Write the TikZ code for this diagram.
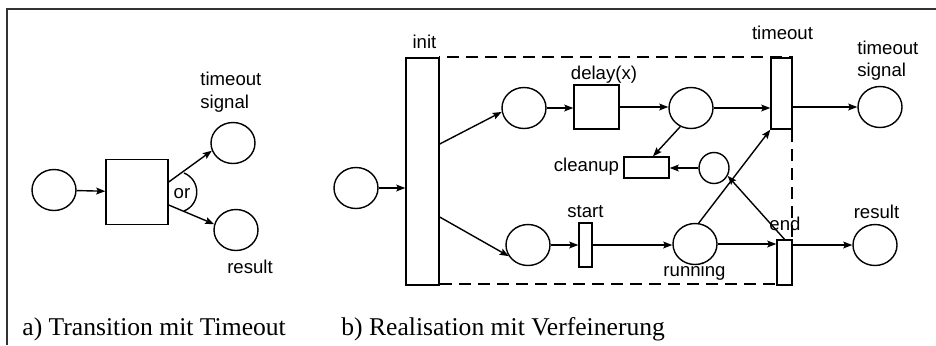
\documentclass[tikz,border=0pt]{standalone}
\usepackage{fontspec}
\setmainfont{Liberation Serif}
\setsansfont{Liberation Sans}
\usetikzlibrary{arrows.meta,shapes.geometric}
\tikzset{
  pnplace/.style={ellipse, draw, line width=0.7pt, minimum width=22pt, minimum height=20.5pt, inner sep=0pt},
  pntrans/.style={rectangle, draw, fill=white, line width=0.7pt, inner sep=0pt},
  pnarc/.style={-{Stealth[length=4.5pt, width=3.4pt, inset=0.8pt]}, line width=0.7pt},
  pnlabel/.style={font=\sffamily\fontsize{9.3}{11.2}\selectfont, inner sep=0pt},
  subcap/.style={font=\fontsize{12.8}{15}\selectfont, inner sep=0pt, anchor=base west}
}

\begin{document}
\begin{tikzpicture}[x=0.5pt, y=-0.5pt]
  \useasboundingbox (0,0) rectangle (936,345);
  \draw[line width=0.9pt, black!80] (7,345) -- (7,9) -- (936,9);

  \node[pnplace] (pa0) at (54,190) {};
  \node[pntrans, minimum width=31pt, minimum height=32.5pt] (ta) at (137,192) {};
  \node[pnplace] (pa1) at (233,143) {};
  \node[pnplace] (pa2) at (236,230) {};
  \node[pnlabel, align=left, anchor=west] (la1) at (200,92) {timeout\\signal};
  \node[pnlabel] (la2) at (250,267) {result};
  \node[pnlabel] (lor) at (182,194) {or};

  \draw[pnarc] (pa0) -- (ta);
  \draw[pnarc] ([yshift=5pt]ta.east) -- (pa1.200);
  \draw[pnarc] ([yshift=-6.5pt]ta.east) -- (pa2.165);
  \draw[line width=0.7pt] (184,173) .. controls (201,180) and (201,204) .. (184,211);

  \draw[line width=0.9pt, dashed, dash pattern=on 6pt off 3.5pt] (439,57) rectangle (792,284);

  \node[pnplace] (pb0) at (356,188) {};
  \node[pntrans, minimum width=16.5pt, minimum height=113.5pt] (init) at (422.5,171.5) {};
  \node[pnplace] (pb1) at (524,108) {};
  \node[pntrans, minimum width=22.5pt, minimum height=22pt] (delay) at (596.5,107) {};
  \node[pnplace] (pb2) at (691,108) {};
  \node[pntrans, minimum width=10.5pt, minimum height=35.5pt] (timeout) at (781.5,93.5) {};
  \node[pnplace] (pb3) at (880,107) {};
  \node[pntrans, minimum width=22.5pt, minimum height=10.5pt] (cleanup) at (646.5,167.5) {};
  \node[pnplace, minimum width=15pt, minimum height=15.5pt] (pb5) at (714,168) {};
  \node[pnplace] (pb4) at (528,245) {};
  \node[pntrans, minimum width=6.5pt, minimum height=22pt] (start) at (585.5,245) {};
  \node[pnplace] (running) at (695,244) {};
  \node[pntrans, minimum width=7.5pt, minimum height=22.5pt] (end) at (784.5,262.5) {};
  \node[pnplace] (pb6) at (875,245) {};

  \node[pnlabel] (linit) at (424.5,42) {init};
  \node[pnlabel] (ldelay) at (604,75) {delay(x)};
  \node[pnlabel] (ltimeout) at (782.5,33) {timeout};
  \node[pnlabel, align=left, anchor=west] (lsignal) at (857,60.5) {timeout\\signal};
  \node[pnlabel] (lcleanup) at (586.5,167) {cleanup};
  \node[pnlabel] (lstart) at (585.5,212) {start};
  \node[pnlabel] (lrunning) at (694.5,272) {running};
  \node[pnlabel] (lend) at (785,224) {end};
  \node[pnlabel] (lresult) at (876.5,212) {result};

  \draw[pnarc] (pb0.east) -- (pb0.east -| init.west);
  \draw[pnarc] ([yshift=13.75pt]init.east) -- (pb1.190);
  \draw[pnarc] ([yshift=-22.75pt]init.east) -- (pb4.210);
  \draw[pnarc] (pb1.east) -- (pb1.east -| delay.west);
  \draw[pnarc] (delay.east) -- (delay.east -| pb2.west);
  \draw[pnarc] (pb2.east) -- (pb2.east -| timeout.west);
  \draw[pnarc] (timeout.east |- pb3.west) -- (pb3.west);
  \draw[pnarc] (pb2.240) -- ([xshift=3.25pt]cleanup.north);
  \draw[pnarc] (pb5.west) -- (pb5.west -| cleanup.east);
  \draw[pnarc] (pb4.east) -- (pb4.east -| start.west);
  \draw[pnarc] (start.east) -- (start.east -| running.west);
  \draw[pnarc] (running.east) -- (running.east -| end.west);
  \draw[pnarc] (end.east |- pb6.west) -- (pb6.west);
  \draw[pnarc] (running.80) -- (timeout.south west);
  \draw[pnarc] (end.north) -- (pb5.330);

  \node[subcap] (capa) at (22,335) {a) Transition mit Timeout};
  \node[subcap] (capb) at (341,335) {b) Realisation mit Verfeinerung};
\end{tikzpicture}
\end{document}
